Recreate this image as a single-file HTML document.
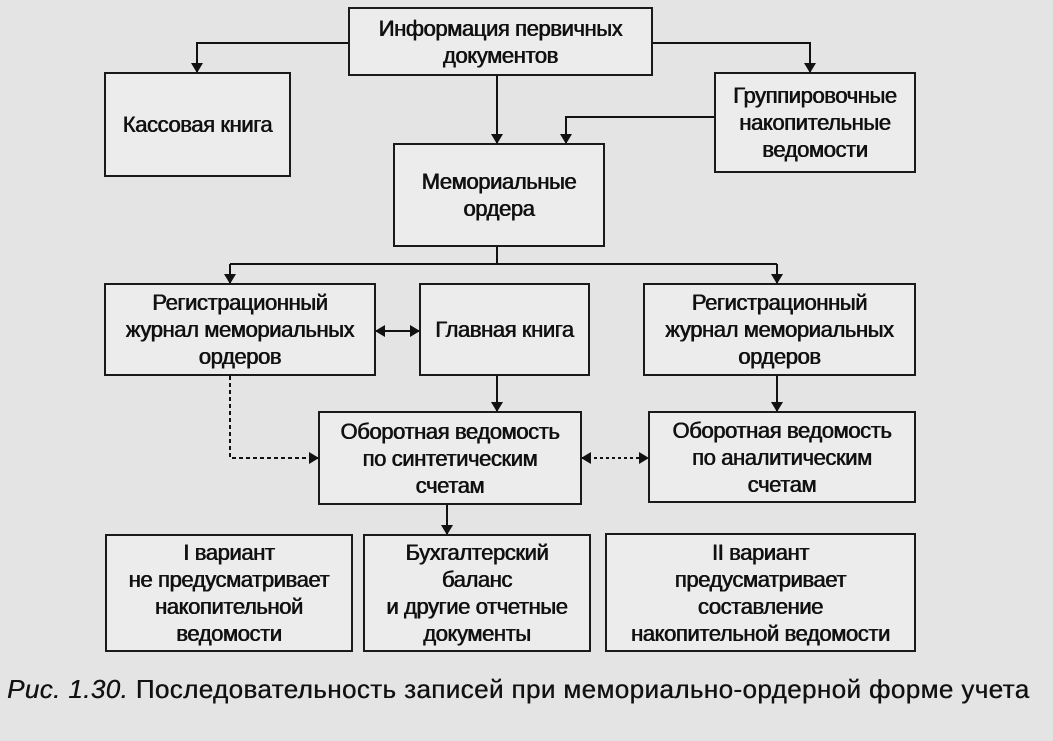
<!DOCTYPE html>
<html><head><meta charset="utf-8"><style>
body{margin:0;width:1053px;height:741px;background:#e4e4e4;position:relative;overflow:hidden;font-family:"Liberation Sans",sans-serif;color:#111}
.b{position:absolute;border:2px solid #1a1a1a;background:#ececec;display:flex;align-items:center;justify-content:center;text-align:center;font-size:22px;line-height:27px;box-sizing:border-box;letter-spacing:-0.4px;text-shadow:0.4px 0 0 #111,-0.3px 0 0 #111}
svg{position:absolute;left:0;top:0}
.cap{position:absolute;left:7px;top:674px;font-size:26px;white-space:nowrap;letter-spacing:0.4px;text-shadow:0.4px 0 0 #111}
</style></head><body>
<svg width="1053" height="741">
<defs><marker id="a" markerWidth="10" markerHeight="12" refX="9" refY="6" orient="auto" markerUnits="userSpaceOnUse"><path d="M0,0L10,6L0,12z" fill="#111"/></marker>
<marker id="s" markerWidth="10" markerHeight="12" refX="1" refY="6" orient="auto" markerUnits="userSpaceOnUse"><path d="M10,0L0,6L10,12z" fill="#111"/></marker></defs>
<g stroke="#111" stroke-width="2" fill="none">
<path d="M348,43H197V72" marker-end="url(#a)"/>
<path d="M653,43H810V72" marker-end="url(#a)"/>
<path d="M497,76V143" marker-end="url(#a)"/>
<path d="M714,117H566V143" marker-end="url(#a)"/>
<path d="M497,247V264"/>
<path d="M230,264H777"/>
<path d="M230,264V283" marker-end="url(#a)"/>
<path d="M777,264V283" marker-end="url(#a)"/>
<path d="M376,331H419" marker-end="url(#a)" marker-start="url(#s)"/>
<path d="M497,376V411" marker-end="url(#a)"/>
<path d="M777,376V411" marker-end="url(#a)"/>
<path d="M230,376V458H318" stroke-dasharray="4,3" marker-end="url(#a)"/>
<path d="M582,458H648" stroke-dasharray="3,3" marker-end="url(#a)" marker-start="url(#s)"/>
<path d="M447,505V534" marker-end="url(#a)"/>
</g></svg>
<div class="b" style="left:348px;top:7px;width:305px;height:69px">Информация первичных<br>документов</div>
<div class="b" style="left:104px;top:72px;width:187px;height:105px">Кассовая книга</div>
<div class="b" style="left:714px;top:72px;width:202px;height:101px">Группировочные<br>накопительные<br>ведомости</div>
<div class="b" style="left:393px;top:143px;width:212px;height:104px">Мемориальные<br>ордера</div>
<div class="b" style="left:104px;top:283px;width:272px;height:93px">Регистрационный<br>журнал мемориальных<br>ордеров</div>
<div class="b" style="left:419px;top:283px;width:171px;height:93px">Главная книга</div>
<div class="b" style="left:643px;top:283px;width:273px;height:93px">Регистрационный<br>журнал мемориальных<br>ордеров</div>
<div class="b" style="left:318px;top:411px;width:264px;height:94px">Оборотная ведомость<br>по синтетическим<br>счетам</div>
<div class="b" style="left:648px;top:411px;width:268px;height:92px">Оборотная ведомость<br>по аналитическим<br>счетам</div>
<div class="b" style="left:105px;top:534px;width:248px;height:118px">I вариант<br>не предусматривает<br>накопительной<br>ведомости</div>
<div class="b" style="left:363px;top:534px;width:228px;height:118px">Бухгалтерский<br>баланс<br>и другие отчетные<br>документы</div>
<div class="b" style="left:605px;top:533px;width:311px;height:119px">II вариант<br>предусматривает<br>составление<br>накопительной ведомости</div>
<div class="cap"><i>Рис. 1.30.</i> Последовательность записей при мемориально-ордерной форме учета</div>
</body></html>
